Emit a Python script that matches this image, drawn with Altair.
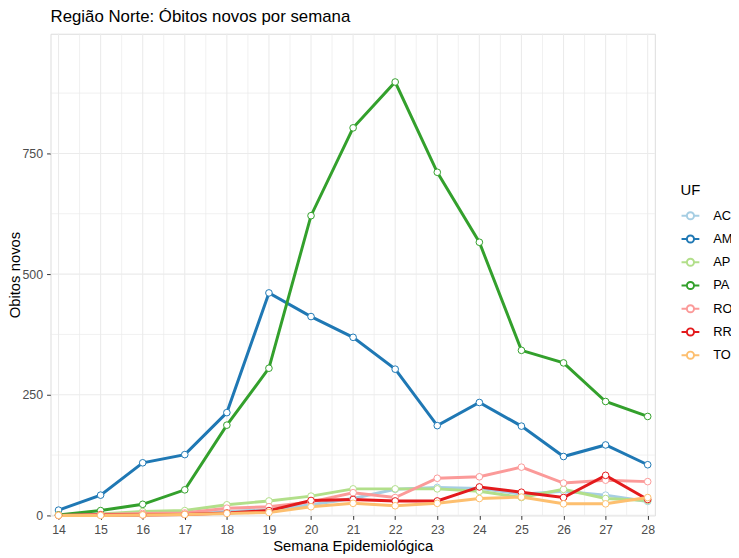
import altair as alt
import pandas as pd

weeks = list(range(14, 29))
ufs = ["AC", "AM", "AP", "PA", "RO", "RR", "TO"]
colors = ["#A6CEE3", "#1F78B4", "#B2DF8A", "#33A02C", "#FB9A99", "#E31A1C", "#FDBF6F"]

AC = [0, 1, 2, 3, 8, 12, 22, 35, 54, 58, 56, 44, 50, 42, 29]
AM = [11, 42, 109, 126, 213, 461, 412, 369, 303, 186, 234, 185, 122, 146, 105]
AP = [1, 3, 8, 10, 22, 30, 40, 55, 55, 55, 50, 37, 54, 35, 31]
PA = [1, 10, 23, 53, 187, 305, 621, 803, 898, 711, 566, 342, 316, 236, 205]
RO = [0, 2, 4, 5, 15, 18, 28, 47, 37, 77, 80, 100, 67, 73, 70]
RR = [0, 1, 1, 2, 5, 10, 31, 33, 30, 30, 59, 48, 37, 83, 33]
TO = [0, 0, 1, 2, 4, 6, 18, 25, 20, 25, 35, 38, 24, 24, 37]

x_ticks = weeks
y_ticks = [0, 250, 500, 750]
grid_x_major = weeks
grid_x_minor = [w + 0.5 for w in weeks[:-1]]
grid_y_major = [0, 250, 500, 750]
grid_y_minor = [125, 375, 625, 875]

rows = []
for uf, vals in zip(ufs, [AC, AM, AP, PA, RO, RR, TO]):
    for w, v in zip(weeks, vals):
        rows.append({"semana": w, "UF": uf, "obitos": v})
df = pd.DataFrame(rows)

FONT = "Liberation Sans"
xscale = alt.Scale(domain=[13.81, 28.17], nice=False, zero=False)
yscale = alt.Scale(domain=[0, 998], nice=False, zero=False)
cscale = alt.Scale(domain=ufs, range=colors)

x_axis = alt.Axis(
    values=x_ticks, format="d", grid=False, domain=False, tickColor="#333333", tickSize=4,
    labelColor="#4D4D4D", labelFontSize=12.5, labelFont=FONT, labelPadding=4,
    title="Semana Epidemiológica", titleFont=FONT, titleFontSize=15, titleFontWeight="normal",
    titleColor="black", titlePadding=3)
y_axis = alt.Axis(
    values=y_ticks, grid=False, domain=False, tickColor="#333333", tickSize=4,
    labelColor="#4D4D4D", labelFontSize=12.5, labelFont=FONT, labelPadding=4,
    title="Obitos novos", titleFont=FONT, titleFontSize=15, titleFontWeight="normal",
    titleColor="black", titlePadding=0)


def vrules(vals, w):
    return alt.Chart(pd.DataFrame({"v": vals})).mark_rule(color="#EBEBEB", strokeWidth=w).encode(
        x=alt.X("v:Q", scale=xscale, axis=x_axis))


def hrules(vals, w):
    return alt.Chart(pd.DataFrame({"v": vals})).mark_rule(color="#EBEBEB", strokeWidth=w).encode(
        y=alt.Y("v:Q", scale=yscale, axis=y_axis))


base = alt.Chart(df)

lines = base.mark_line(strokeWidth=3).encode(
    x=alt.X("semana:Q", scale=xscale, axis=x_axis),
    y=alt.Y("obitos:Q", scale=yscale, axis=y_axis),
    color=alt.Color("UF:N", scale=cscale, legend=alt.Legend(
        title="UF", orient="none", legendX=637, legendY=151,
        titleFont=FONT, titleFontSize=15, titleFontWeight="normal", titleColor="black",
        titlePadding=8,
        labelFont=FONT, labelFontSize=13, labelColor="black", labelOffset=13,
        symbolType="M-1,0H-0.4A0.4,0.4 0 1,1 0.4,0A0.4,0.4 0 1,1 -0.4,0M0.4,0H1",
        symbolSize=324, symbolStrokeWidth=2, symbolFillColor="white", rowPadding=5.5)),
    detail="UF:N")

points = base.mark_point(filled=True, fill="white", size=45, strokeWidth=1, opacity=1).encode(
    x=alt.X("semana:Q", scale=xscale, axis=x_axis),
    y=alt.Y("obitos:Q", scale=yscale, axis=y_axis),
    stroke=alt.Stroke("UF:N", scale=cscale, legend=None))

chart = alt.layer(
    vrules(grid_x_minor, 0.7), vrules(grid_x_major, 1.1),
    hrules(grid_y_minor, 0.7), hrules(grid_y_major, 1.1),
    lines, points,
).properties(
    width=611, height=487,
    title=alt.TitleParams("Região Norte: Óbitos novos por semana", anchor="start", frame="group",
                          fontSize=17, font=FONT, fontWeight="normal", color="black", offset=7),
    autosize=alt.AutoSizeParams(type="none"),
    padding={"left": 43, "top": 23, "right": 77, "bottom": 37},
).configure_view(stroke="#555555", strokeWidth=1).configure(background="white")

chart.save("out.html", embed_options={"renderer": "svg", "actions": False})
